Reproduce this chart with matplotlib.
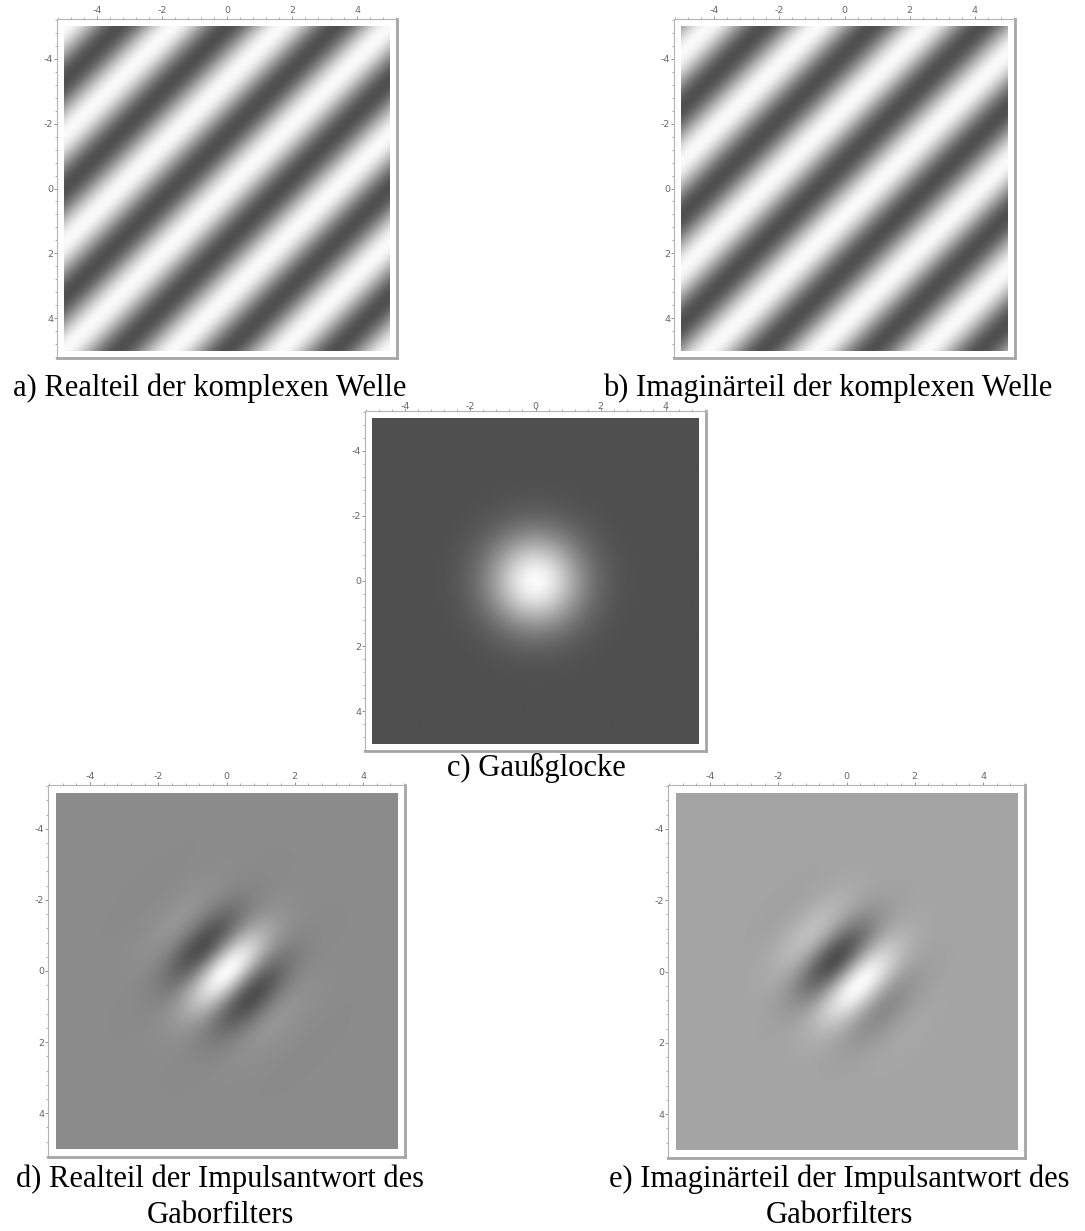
import numpy as np
import matplotlib
matplotlib.use("Agg")
import matplotlib.pyplot as plt
from matplotlib.colors import LinearSegmentedColormap

plt.rcParams["axes.unicode_minus"] = False

# Gabor filter parameters: spatial frequency of the complex wave and Gaussian width
u0 = 0.3
v0 = 0.3
sigma = 1.0
x_range = [-5.0, 5.0]
y_range = [-5.0, 5.0]
grid_n = 301

major_ticks = [-4, -2, 0, 2, 4]

captions = [
    ["a) Realteil der komplexen Welle"],
    ["b) Imaginärteil der komplexen Welle"],
    ["c) Gaußglocke"],
    ["d) Realteil der Impulsantwort des", "Gaborfilters"],
    ["e) Imaginärteil der Impulsantwort des", "Gaborfilters"],
]

W, H = 1085, 1231
fig = plt.figure(figsize=(W / 100, H / 100), dpi=100)

xs = np.linspace(x_range[0], x_range[1], grid_n)
ys = np.linspace(y_range[0], y_range[1], grid_n)
X, Y = np.meshgrid(xs, ys)
phase = 2 * np.pi * (u0 * X + v0 * Y)
gauss = np.exp(-(X ** 2 + Y ** 2) / (2 * sigma ** 2))
fields = [
    np.cos(phase),
    np.sin(phase),
    gauss,
    gauss * np.cos(phase),
    gauss * np.sin(phase),
]

cmap = LinearSegmentedColormap.from_list("maple_gray", ["#4f4f4f", "#fafafa"])

# frame boxes in pixels: (left, top, right, bottom)
frames = [
    (57, 19, 397, 358),
    (674, 19, 1015, 358),
    (365, 411, 706, 751),
    (48, 785, 405, 1157),
    (668, 785, 1025, 1158),
]
# caption anchors: (x, first baseline y, ha)
cap_pos = [
    (13, 396, "left"),
    (603, 396, "left"),
    (536, 776, "center"),
    (220, 1187, "center"),
    (839, 1187, "center"),
]
line_step = 36
top_label_pad = [0.3, 0.3, -2.8, 0.3, 0.3]

pad = 0.23
for Z, (l, t, r, b), cap, (cx, cy, ha), tpad in zip(fields, frames, captions,
                                                    cap_pos, top_label_pad):
    ax = fig.add_axes([l / W, 1 - b / H, (r - l) / W, (b - t) / H])
    ax.imshow(Z, extent=(x_range[0], x_range[1], y_range[1], y_range[0]),
              origin="upper", cmap=cmap, interpolation="bilinear",
              vmin=Z.min(), vmax=Z.max(), aspect="auto")
    ax.set_xlim(x_range[0] - pad, x_range[1] + pad)
    ax.set_ylim(y_range[1] + pad, y_range[0] - pad)
    ax.set_xticks(major_ticks)
    ax.set_yticks(major_ticks)
    ax.set_xticks(np.arange(-5.2, 5.21, 0.4), minor=True)
    ax.set_yticks(np.arange(-5.2, 5.21, 0.4), minor=True)
    ax.xaxis.tick_top()
    ax.tick_params(axis="both", which="major", direction="out", length=2.5,
                   width=0.7, color="#909090", labelsize=6.8,
                   labelcolor="#666666", pad=0.3)
    ax.tick_params(axis="x", which="major", pad=tpad)
    ax.tick_params(axis="both", which="minor", direction="out", length=1.6,
                   width=0.6, color="#a0a0a0")
    ax.tick_params(axis="x", which="both", top=True, bottom=False)
    ax.tick_params(axis="y", which="both", left=True, right=False)
    for name in ("top", "left"):
        ax.spines[name].set_color("#b4b4b4")
        ax.spines[name].set_linewidth(0.8)
    for name in ("right", "bottom"):
        ax.spines[name].set_color("#a6a6a6")
        ax.spines[name].set_linewidth(2.0)
    for i, line in enumerate(cap):
        fig.text(cx / W, 1 - (cy + i * line_step) / H, line, ha=ha,
                 va="baseline", family="Liberation Serif", fontsize=22.0,
                 color="black")

fig.savefig("out.png", dpi=100, facecolor="white")
